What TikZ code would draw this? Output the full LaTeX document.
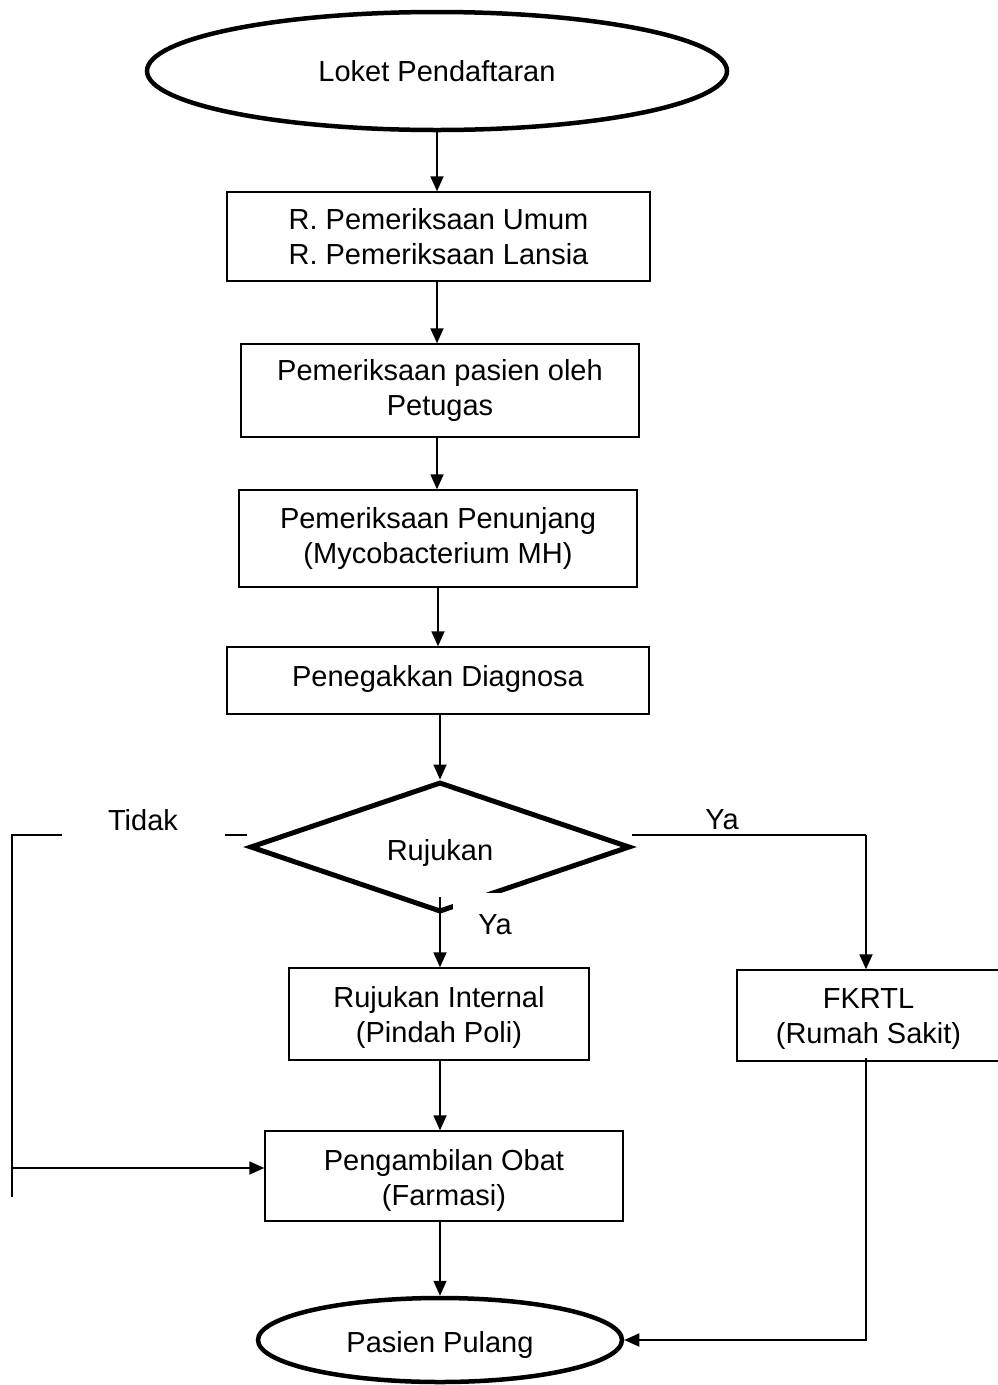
\documentclass[tikz,border=0pt]{standalone}
\usepackage{fontspec}
\setmainfont{Liberation Sans}
\usetikzlibrary{shapes.geometric,arrows.meta,calc}
\begin{document}
\begin{tikzpicture}[x=1pt,y=-1pt,
  every node/.style={font=\fontsize{29}{35}\selectfont, align=center, inner sep=0pt},
  terminal/.style={ellipse, draw, line width=4.5pt},
  stepbox/.style={rectangle, draw, line width=1.4pt},
  lowbox/.style={stepbox, text height=62pt},
  decision/.style={diamond, aspect=3, draw, line width=5pt},
  label/.style={fill=white},
  conn/.style={line width=1.8pt},
  arr/.style={conn, -{Triangle[length=15pt,width=13pt]}}
]
\useasboundingbox (0,0) rectangle (998,1385);
\clip (0,0) rectangle (998,1385);

% process nodes
\node[terminal, minimum width=580pt, minimum height=118pt] (loket) at (437,71) {Loket Pendaftaran};
\node[stepbox, minimum width=423pt, minimum height=89pt] (ruang) at (438.5,236.5)
  {R. Pemeriksaan Umum\\R. Pemeriksaan Lansia};
\node[stepbox, minimum width=398pt, minimum height=93pt] (periksa) at (440,390.5)
  {Pemeriksaan pasien oleh\\Petugas};
\node[stepbox, minimum width=398pt, minimum height=97pt] (penunjang) at (438,538.5)
  {Pemeriksaan Penunjang\\(Mycobacterium MH)};
\node[stepbox, minimum width=422pt, minimum height=67pt, text depth=10pt] (diagnosa) at (438,680.5)
  {Penegakkan Diagnosa};
\node[decision, minimum width=380pt, minimum height=130pt, text height=33pt, text depth=6pt]
  (rujukan) at (440,847) {Rujukan};
\node[lowbox, minimum width=300pt, minimum height=92pt] (internal) at (439,1014)
  {Rujukan Internal\\(Pindah Poli)};
\node[lowbox, minimum width=263pt, minimum height=91pt] (fkrtl) at (868.5,1015.5)
  {FKRTL\\(Rumah Sakit)};
\node[lowbox, minimum width=358pt, minimum height=90pt, text height=64pt] (farmasi) at (444,1176)
  {Pengambilan Obat\\(Farmasi)};
\node[terminal, minimum width=364pt, minimum height=84pt, text height=31pt, text depth=6pt]
  (pulang) at (440,1340) {Pasien Pulang};

% main vertical flow
\draw[arr] (loket.south) -- (loket.south |- ruang.north);
\draw[arr] (loket.south |- ruang.south) -- (loket.south |- periksa.north);
\draw[arr] (loket.south |- periksa.south) -- (loket.south |- penunjang.north);
\draw[arr] (penunjang.south) -- (penunjang.south |- diagnosa.north);
\draw[arr] (diagnosa.south -| rujukan.north) -- (rujukan.north);

% label below the decision, blanking part of its outline
\node[label, minimum width=84pt, minimum height=64pt] (yabawah) at (495,925) {Ya};
\coordinate (ybstart) at (440,897);
\draw[arr] (ybstart) -- (ybstart |- internal.north);

% "Ya" branch to FKRTL
\coordinate (yastart) at (632,835);
\coordinate (yacorner) at (866,835);
\draw[conn] (yastart) -- (yacorner);
\draw[arr] (yacorner) -- (yacorner |- fkrtl.north);
\node (yakanan) at (722,820) {Ya};

% "Tidak" branch to the pharmacy
\coordinate (tstart) at (247,835);
\coordinate (tcorner) at (12,835);
\coordinate (tend) at (12,1197);
\coordinate (tbranch) at (12,1168);
\draw[conn] (tstart) -- (tcorner) -- (tend);
\draw[arr] (tbranch) -- (tbranch -| farmasi.west);
\node[label, minimum width=163pt, minimum height=42pt] (tidak) at (143,820) {Tidak};

% lower flow
\draw[arr] (ybstart |- internal.south) -- (ybstart |- farmasi.north);
\draw[arr] (ybstart |- farmasi.south) -- (pulang.north);
\coordinate (fkbottom) at (866,1058);
\draw[arr] (fkbottom) |- (pulang.east);
\end{tikzpicture}
\end{document}
